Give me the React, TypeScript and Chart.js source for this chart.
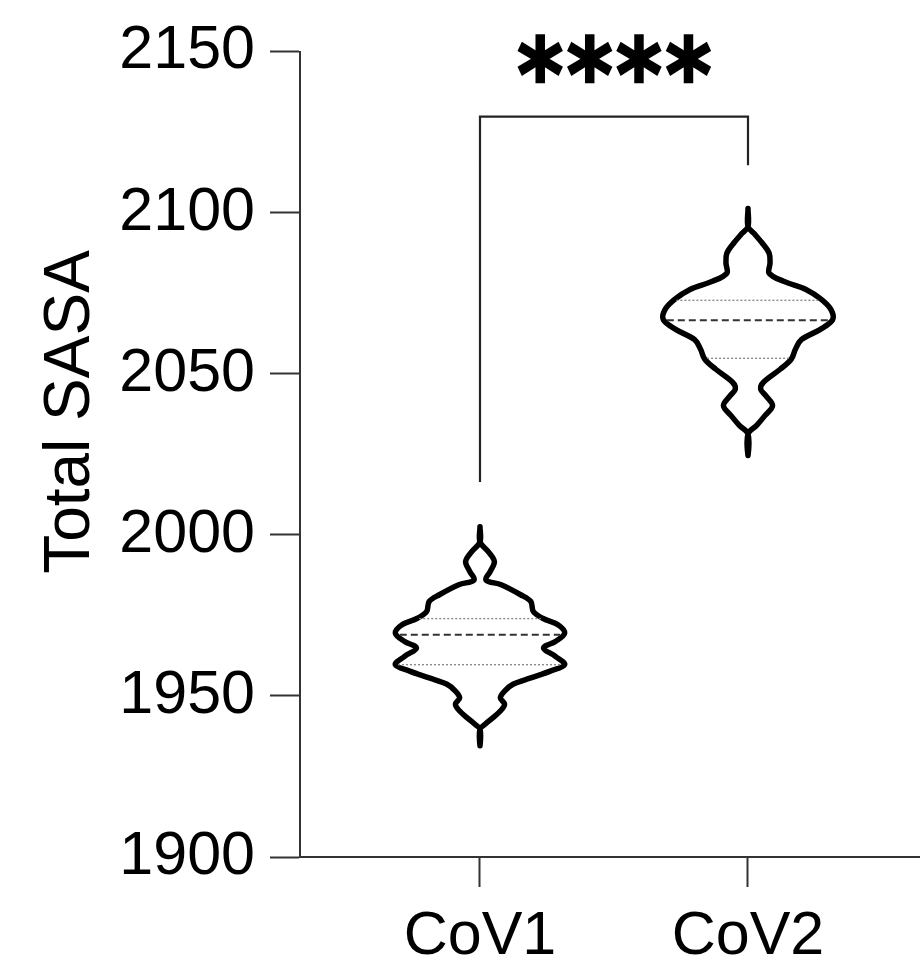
import React, { useEffect, useRef } from "react";
import { Chart, registerables } from "chart.js";

Chart.register(...registerables);

// ---------- data ----------
const CATEGORIES = ["CoV1", "CoV2"];
const CATEGORY_POS = [1, 2];
const Y_TICKS = [1900, 1950, 2000, 2050, 2100, 2150];
const Y_TITLE = "Total SASA";

// violin profiles: value (top -> bottom) and relative density (0..1)
const COV1_VALUES = [
  2002.5, 1997.8, 1994.7, 1991.7, 1988.6, 1986.0, 1984.5, 1981.4, 1979.3, 1976.2,
  1974.1, 1972.1, 1969.5, 1966.9, 1964.9, 1962.3, 1959.7, 1957.7, 1955.6, 1953.6,
  1951.5, 1949.4, 1947.4, 1945.3, 1943.2, 1941.2, 1939.7, 1934.5,
];
const COV1_DENSITY = [
  0, 0, 0.1, 0.17, 0.12, 0.07, 0.25, 0.48, 0.6, 0.63,
  0.74, 0.92, 1.0, 0.89, 0.75, 0.89, 1.0, 0.83, 0.6, 0.39,
  0.29, 0.24, 0.29, 0.24, 0.15, 0.06, 0, 0,
];
const COV2_VALUES = [
  2101.3, 2095.7, 2093.6, 2090.5, 2087.4, 2084.3, 2081.2, 2078.7, 2076.1, 2073.0,
  2069.9, 2066.8, 2063.7, 2060.6, 2057.6, 2054.5, 2051.4, 2047.3, 2045.2, 2043.2,
  2040.1, 2037.0, 2033.9, 2031.3, 2024.6,
];
const COV2_DENSITY = [
  0, 0, 0.07, 0.17, 0.25, 0.26, 0.25, 0.42, 0.69, 0.87,
  0.98, 1.0, 0.85, 0.63, 0.56, 0.51, 0.38, 0.18, 0.15, 0.21,
  0.29, 0.2, 0.1, 0, 0,
];
const MEDIANS = [1969.0, 2066.6];
const Q1 = [1959.7, 2054.8];
const Q3 = [1974.0, 2072.8];

// significance bracket
const BRACKET_TOP = 2129.8;
const BRACKET_LEFT_END = 2016.4;
const BRACKET_RIGHT_END = 2114.7;
const SIG_LABEL = "****";
const SIG_Y = 2147.8;

// ---------- styling ----------
const FONT = '"Liberation Sans", Arial, sans-serif';
const VIOLIN_HALF = 0.316; // x-units for density 1
const AXIS_COLOR = "#333333";
const STAR_HEIGHT = 49;
const STAR_WIDTH = 46;
const STAR_PITCH = 49.4;
const STAR_STROKE = 2.5;

function interpDensity(values: number[], density: number[], v: number) {
  for (let i = 0; i < values.length - 1; i++) {
    const a = values[i];
    const b = values[i + 1];
    if (v <= a && v >= b) {
      const t = a === b ? 0 : (a - v) / (a - b);
      return density[i] + t * (density[i + 1] - density[i]);
    }
  }
  return 0;
}

function outline(pos: number, values: number[], density: number[]) {
  const right = values.map((v, i) => ({ x: pos + density[i] * VIOLIN_HALF, y: v }));
  const left = values
    .map((v, i) => ({ x: pos - density[i] * VIOLIN_HALF, y: v }))
    .reverse()
    .slice(1);
  return [...right, ...left];
}

function hLine(pos: number, values: number[], density: number[], v: number) {
  const d = interpDensity(values, density, v) * VIOLIN_HALF - 0.01;
  return [
    { x: pos - d, y: v },
    { x: pos + d, y: v },
  ];
}

const titlePlugin = {
  id: "extraText",
  afterDraw(chart: any) {
    const ctx = chart.ctx;
    const xs = chart.scales.x;
    const ys = chart.scales.y;
    ctx.save();
    // y title
    ctx.translate(71, 412);
    ctx.rotate(-Math.PI / 2);
    ctx.font = `64px ${FONT}`;
    ctx.fillStyle = "#000";
    ctx.textAlign = "center";
    ctx.textBaseline = "middle";
    ctx.fillText(Y_TITLE, 0, 0);
    ctx.restore();

    // significance stars
    ctx.save();
    ctx.font = `bold 100px "DejaVu Sans"`;
    const m0 = ctx.measureText("*");
    const h0 = m0.actualBoundingBoxAscent + m0.actualBoundingBoxDescent;
    const size = (100 * (STAR_HEIGHT - STAR_STROKE)) / h0;
    ctx.font = `bold ${size}px "DejaVu Sans"`;
    const m1 = ctx.measureText("*");
    const gw = m1.actualBoundingBoxLeft + m1.actualBoundingBoxRight;
    const sx = (STAR_WIDTH - STAR_STROKE) / gw;
    const adv = m1.width;
    const pitch = STAR_PITCH / sx;
    (ctx as any).letterSpacing = `${pitch - adv}px`;
    ctx.textAlign = "left";
    ctx.textBaseline = "alphabetic";
    const cx = xs.getPixelForValue((CATEGORY_POS[0] + CATEGORY_POS[1]) / 2);
    const cy = ys.getPixelForValue(SIG_Y);
    const n = SIG_LABEL.length;
    // extent in scaled units: from first glyph left to last glyph right
    const extent = (n - 1) * pitch + gw;
    const x0 = -extent / 2 + m1.actualBoundingBoxLeft;
    const y0 = (m1.actualBoundingBoxAscent - m1.actualBoundingBoxDescent) / 2;
    ctx.translate(cx, cy);
    ctx.scale(sx, 1);
    ctx.fillStyle = "#000";
    ctx.strokeStyle = "#000";
    ctx.lineWidth = STAR_STROKE;
    ctx.lineJoin = "miter";
    ctx.fillText(SIG_LABEL, x0, y0);
    ctx.strokeText(SIG_LABEL, x0, y0);
    ctx.restore();
  },
};

export default function App() {
  const ref = useRef<HTMLCanvasElement | null>(null);

  useEffect(() => {
    if (!ref.current) return;
    const profiles = [
      [COV1_VALUES, COV1_DENSITY],
      [COV2_VALUES, COV2_DENSITY],
    ];
    const datasets: any[] = [];
    profiles.forEach(([vals, dens], i) => {
      const pos = CATEGORY_POS[i];
      [Q1[i], Q3[i]].forEach((q) => {
        datasets.push({
          data: hLine(pos, vals, dens, q),
          showLine: true,
          borderColor: "#8a8a8a",
          borderWidth: 1.4,
          borderDash: [2, 2],
          pointRadius: 0,
          tension: 0,
        });
      });
      datasets.push({
        data: hLine(pos, vals, dens, MEDIANS[i]),
        showLine: true,
        borderColor: "#333",
        borderWidth: 2,
        borderDash: [7, 4],
        pointRadius: 0,
        tension: 0,
      });
      datasets.push({
        data: outline(pos, vals, dens),
        showLine: true,
        borderColor: "#000",
        borderWidth: 5.5,
        borderJoinStyle: "round",
        borderCapStyle: "round",
        pointRadius: 0,
        tension: 0.35,
        fill: false,
      });
    });
    datasets.push({
      data: [
        { x: CATEGORY_POS[0], y: BRACKET_LEFT_END },
        { x: CATEGORY_POS[0], y: BRACKET_TOP },
        { x: CATEGORY_POS[1], y: BRACKET_TOP },
        { x: CATEGORY_POS[1], y: BRACKET_RIGHT_END },
      ],
      showLine: true,
      borderColor: "#222",
      borderWidth: 2.2,
      pointRadius: 0,
      tension: 0,
    });

    const chart = new Chart(ref.current, {
      type: "scatter",
      data: { datasets },
      plugins: [titlePlugin],
      options: {
        animation: false,
        responsive: true,
        maintainAspectRatio: false,
        events: [],
        layout: { padding: { top: 48, left: 0, right: 0, bottom: 0 } },
        plugins: { legend: { display: false }, tooltip: { enabled: false } },
        scales: {
          x: {
            type: "linear",
            min: 0.3284,
            max: 2.6418,
            afterBuildTicks: (s: any) => {
              s.ticks = CATEGORY_POS.map((v) => ({ value: v }));
            },
            afterFit: (s: any) => {
              s.height = 106;
            },
            grid: {
              drawOnChartArea: false,
              drawTicks: true,
              tickLength: 30,
              tickWidth: 2,
              tickColor: AXIS_COLOR,
            },
            border: { display: true, color: AXIS_COLOR, width: 2 },
            ticks: {
              autoSkip: false,
              maxRotation: 0,
              padding: 14,
              color: "#000",
              font: { family: FONT, size: 61 },
              callback: (v: any) => CATEGORIES[CATEGORY_POS.indexOf(Number(v))] ?? "",
            },
          },
          y: {
            type: "linear",
            min: 1900,
            max: 2150,
            afterBuildTicks: (s: any) => {
              s.ticks = Y_TICKS.map((v) => ({ value: v }));
            },
            afterFit: (s: any) => {
              s.width = 300;
            },
            grid: {
              drawOnChartArea: false,
              drawTicks: true,
              tickLength: 30,
              tickWidth: 2,
              tickColor: AXIS_COLOR,
            },
            border: { display: true, color: AXIS_COLOR, width: 2 },
            ticks: {
              padding: 15,
              color: "#000",
              font: { family: FONT, size: 61 },
              callback: (v: any) => String(v),
            },
          },
        },
      },
    } as any);
    return () => chart.destroy();
  }, []);

  return (
    <div style={{ position: "fixed", left: 0, top: 0, width: 920, height: 963, background: "#fff" }}>
      <canvas ref={ref} />
    </div>
  );
}
